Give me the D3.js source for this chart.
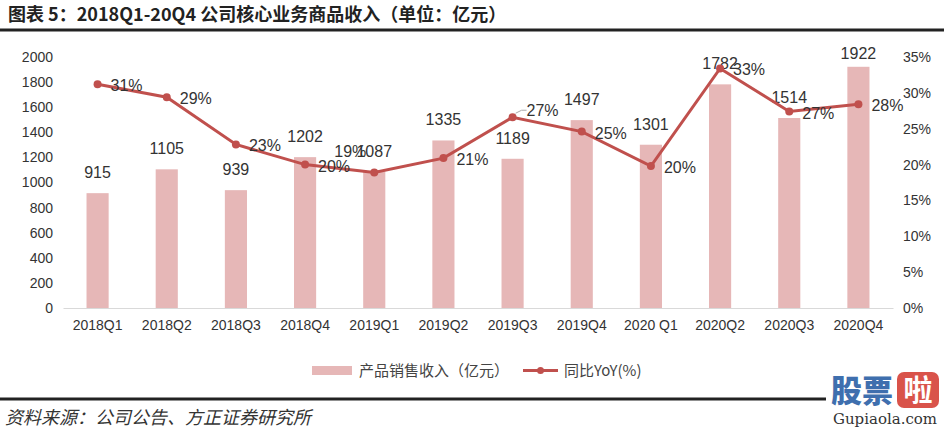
<!DOCTYPE html>
<html><head><meta charset="utf-8">
<script src="https://cdn.jsdelivr.net/npm/d3@7"></script>
<style>body{margin:0;background:#fff}svg{display:block}</style>
</head><body><svg id="c" width="944" height="428"></svg>
<script>
const categories = ["2018Q1","2018Q2","2018Q3","2018Q4","2019Q1","2019Q2","2019Q3","2019Q4","2020 Q1","2020Q2","2020Q3","2020Q4"];
const revenue = [915,1105,939,1202,1087,1335,1189,1497,1301,1782,1514,1922];
const yoy = [31.2,29.4,22.8,20.0,18.9,20.9,26.6,24.6,19.8,33.4,27.4,28.4];
const yoyLabels = ["31%","29%","23%","20%","19%","21%","27%","25%","20%","33%","27%","28%"];
const leftTicks = [0,200,400,600,800,1000,1200,1400,1600,1800,2000];
const rightTicks = [0,5,10,15,20,25,30,35];
const titleText = "图表 5：2018Q1-20Q4 公司核心业务商品收入（单位：亿元）";
const sourceText = "资料来源：公司公告、方正证券研究所";
const legendNames = ["产品销售收入（亿元）","同比YoY(%)"];

const svg = d3.select("#c");
const barColor = "#e6b7b7", lineColor = "#c0504d";
const font = "'Liberation Sans', Arial, sans-serif";
const cjk = "'Noto Sans CJK SC', sans-serif";

const x = d3.scaleBand().domain(categories).range([63, 893]).paddingInner(0.68).paddingOuter(0.34);
const yL = d3.scaleLinear().domain([0, 2000]).range([308, 57]);
const yR = d3.scaleLinear().domain([0, 35]).range([308, 57]);
const cx = c => x(c) + x.bandwidth() / 2;

// title
svg.append("text").attr("x", 8).attr("y", 21).attr("font-family", cjk).attr("font-size", 18)
  .attr("font-weight", 600).attr("fill", "#222").text(titleText);
svg.append("line").attr("x1", 0).attr("x2", 944).attr("y1", 30).attr("y2", 30)
  .attr("stroke", "#222").attr("stroke-width", 3);

// bars
svg.selectAll("rect.bar").data(revenue).join("rect").attr("class", "bar")
  .attr("x", (d, i) => x(categories[i])).attr("width", x.bandwidth())
  .attr("y", d => yL(d)).attr("height", d => yL(0) - yL(d)).attr("fill", barColor);

// x axis baseline
const xAxis = d3.axisBottom(x).tickSize(0).tickPadding(12);
const gx = svg.append("g").attr("transform", "translate(0,308)").call(xAxis);
gx.select(".domain").attr("stroke", "#d9d9d9").attr("stroke-width", 1.2);
gx.selectAll("text").attr("font-family", font).attr("font-size", 14).attr("fill", "#333");

// left axis
const gl = svg.append("g").attr("transform", "translate(63,0)")
  .call(d3.axisLeft(yL).tickValues(leftTicks).tickSize(0).tickPadding(10).tickFormat(d3.format("d")));
gl.select(".domain").remove();
gl.selectAll("text").attr("font-family", font).attr("font-size", 14).attr("fill", "#333");

// right axis
const gr = svg.append("g").attr("transform", "translate(893,0)")
  .call(d3.axisRight(yR).tickValues(rightTicks).tickSize(0).tickPadding(10).tickFormat(d => d + "%"));
gr.select(".domain").remove();
gr.selectAll("text").attr("font-family", font).attr("font-size", 14).attr("fill", "#333");

// bar labels
svg.selectAll("text.bl").data(revenue).join("text").attr("class", "bl")
  .attr("x", (d, i) => cx(categories[i]))
  .attr("y", d => Math.max(yL(d) - 15, 59))
  .attr("text-anchor", "middle").attr("font-family", font).attr("font-size", 16).attr("fill", "#333")
  .text(d => d);

// line
const line = d3.line().x((d, i) => cx(categories[i])).y(d => yR(d));
svg.append("path").datum(yoy).attr("d", line).attr("fill", "none")
  .attr("stroke", lineColor).attr("stroke-width", 3);
svg.selectAll("circle.pt").data(yoy).join("circle").attr("class", "pt")
  .attr("cx", (d, i) => cx(categories[i])).attr("cy", d => yR(d)).attr("r", 4).attr("fill", lineColor);

// leader line for 2019Q3 label
const q3 = 6;
svg.append("path").attr("d", `M${cx(categories[q3]) + 3},${yR(yoy[q3]) - 4} L${cx(categories[q3]) + 9},${yR(yoy[q3]) - 7} L${cx(categories[q3]) + 14},${yR(yoy[q3]) - 7}`)
  .attr("fill", "none").attr("stroke", "#aaa").attr("stroke-width", 1);

// pct labels
const nudge = {4: [-24, -21], 6: [30, -7]};
svg.selectAll("text.pl").data(yoy).join("text").attr("class", "pl")
  .attr("x", (d, i) => cx(categories[i]) + (nudge[i] ? nudge[i][0] : 29))
  .attr("y", (d, i) => yR(d) + (nudge[i] ? nudge[i][1] : 1) + 6)
  .attr("text-anchor", "middle").attr("font-family", font).attr("font-size", 16).attr("fill", "#333")
  .text((d, i) => yoyLabels[i]);

// legend
const lg = svg.append("g");
lg.append("rect").attr("x", 312).attr("y", 366).attr("width", 40).attr("height", 9).attr("fill", barColor);
lg.append("text").attr("x", 359).attr("y", 376).attr("font-family", cjk).attr("font-size", 15).attr("fill", "#444").text(legendNames[0]);
lg.append("line").attr("x1", 523).attr("x2", 558).attr("y1", 370.5).attr("y2", 370.5).attr("stroke", lineColor).attr("stroke-width", 3);
lg.append("circle").attr("cx", 540.5).attr("cy", 370.5).attr("r", 3.5).attr("fill", lineColor);
lg.append("text").attr("x", 564).attr("y", 376).attr("font-family", cjk).attr("font-size", 15).attr("fill", "#444").text(legendNames[1]);

// bottom rule & source
svg.append("line").attr("x1", 0).attr("x2", 826).attr("y1", 399).attr("y2", 399)
  .attr("stroke", "#222").attr("stroke-width", 3);
svg.append("text").attr("x", 5).attr("y", 424).attr("font-family", cjk).attr("font-size", 18)
  .attr("font-style", "italic").attr("fill", "#333").text(sourceText);

// watermark
const wm = svg.append("g");
wm.append("text").attr("x", 831).attr("y", 402).attr("font-family", cjk).attr("font-size", 31)
  .attr("font-weight", 900).attr("fill", "#3f6fae").text("股票");
wm.append("rect").attr("x", 897).attr("y", 372).attr("width", 42).attr("height", 36).attr("rx", 7).attr("fill", "#d9534a");
wm.append("text").attr("x", 918).attr("y", 401).attr("text-anchor", "middle").attr("font-family", cjk).attr("font-size", 29)
  .attr("font-weight", 700).attr("fill", "#fff").text("啦");
wm.append("text").attr("x", 885).attr("y", 424).attr("text-anchor", "middle").attr("font-family", "'DejaVu Serif', serif").attr("font-size", 15)
  .attr("fill", "#333").text("Gupiaola.com");
</script></body></html>
